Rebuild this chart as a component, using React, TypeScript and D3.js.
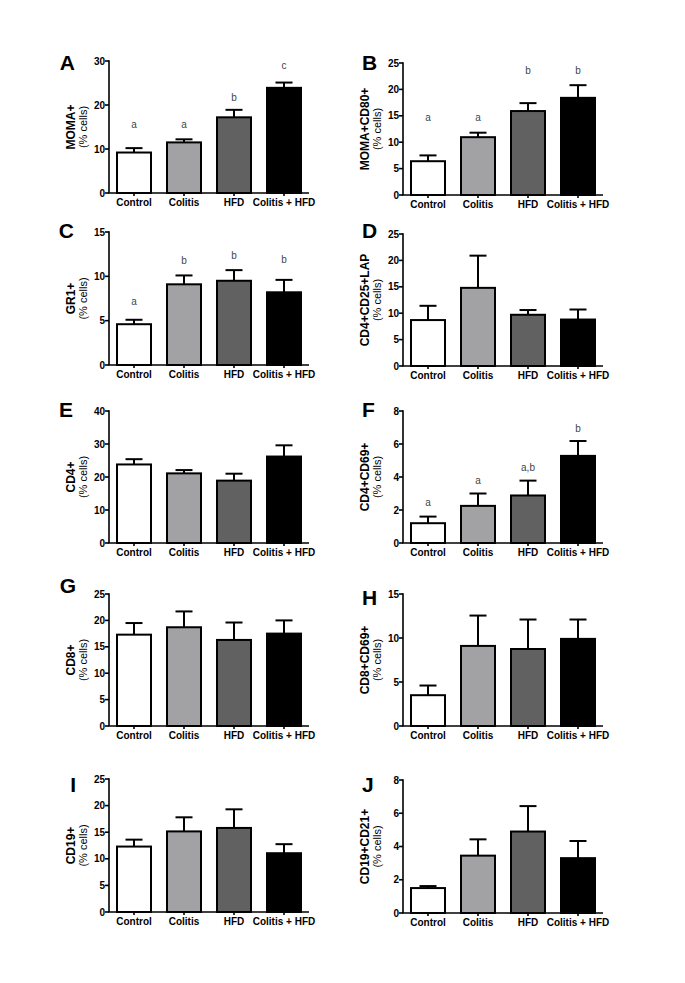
import * as d3 from "d3";

const W = 685;
const H = 983;
const FONT = "'Liberation Sans', Arial, Helvetica, sans-serif";

const GROUPS = ["Control", "Colitis", "HFD", "Colitis + HFD"];
const FILLS = ["#ffffff", "#a2a2a5", "#616161", "#000000"];

// panel ids, in reading order
const PANEL_IDS = ["A", "B", "C", "D", "E", "F", "G", "H", "I", "J"];
const Y_LABELS = [
  "MOMA+",
  "MOMA+CD80+",
  "GR1+",
  "CD4+CD25+LAP",
  "CD4+",
  "CD4+CD69+",
  "CD8+",
  "CD8+CD69+",
  "CD19+",
  "CD19+CD21+",
];
const Y_MAX = [30, 25, 15, 25, 40, 8, 25, 15, 25, 8];
const Y_STEP = [10, 5, 5, 5, 10, 2, 5, 5, 5, 2];

// mean % cells per group
const MEANS = [
  [9.2, 11.5, 17.2, 23.9],
  [6.4, 10.95, 15.9, 18.4],
  [4.6, 9.1, 9.5, 8.2],
  [8.7, 14.8, 9.7, 8.8],
  [23.8, 21.1, 18.9, 26.2],
  [1.2, 2.25, 2.88, 5.28],
  [17.3, 18.7, 16.3, 17.5],
  [3.5, 9.1, 8.75, 9.9],
  [12.3, 15.15, 15.8, 11.05],
  [1.5, 3.45, 4.9, 3.3],
];
// SEM (upper error bar)
const SEMS = [
  [1.0, 0.7, 1.7, 1.2],
  [1.1, 0.85, 1.5, 2.4],
  [0.5, 1.0, 1.2, 1.4],
  [2.7, 6.1, 0.9, 1.9],
  [1.6, 1.0, 2.1, 3.4],
  [0.4, 0.75, 0.9, 0.9],
  [2.2, 3.0, 3.3, 2.5],
  [1.1, 3.45, 3.35, 2.2],
  [1.3, 2.65, 3.5, 1.7],
  [0.12, 0.98, 1.53, 1.03],
];
// significance letters and the value they sit at
const SIG_LETTERS: (string[] | null)[] = [
  ["a", "a", "b", "c"],
  ["a", "a", "b", "b"],
  ["a", "b", "b", "b"],
  null,
  null,
  ["a", "a", "a,b", "b"],
  null,
  null,
  null,
  null,
];
const SIG_AT: (number[] | null)[] = [
  [15.6, 15.6, 21.7, 29.0],
  [14.6, 14.6, 23.6, 23.6],
  [7.2, 11.8, 12.3, 11.9],
  null,
  null,
  [2.44, 3.8, 4.55, 6.93],
  null,
  null,
  null,
  null,
];

// plot frames: axis x, top, bottom; panel letter position
const LAYOUT = [
  { x: 109, top: 61, bottom: 193, lx: 75, ly: 70, anchor: "end" },
  { x: 403, top: 63, bottom: 195, lx: 362, ly: 70, anchor: "start" },
  { x: 109, top: 232, bottom: 365, lx: 74, ly: 238, anchor: "end" },
  { x: 403, top: 234, bottom: 366, lx: 362, ly: 238, anchor: "start" },
  { x: 109, top: 411, bottom: 543, lx: 73, ly: 417, anchor: "end" },
  { x: 403, top: 411, bottom: 543, lx: 362, ly: 417, anchor: "start" },
  { x: 109, top: 594, bottom: 726, lx: 76, ly: 593, anchor: "end" },
  { x: 403, top: 594, bottom: 726, lx: 362, ly: 605, anchor: "start" },
  { x: 109, top: 779, bottom: 912, lx: 76, ly: 792, anchor: "end" },
  { x: 403, top: 780, bottom: 913, lx: 362, ly: 792, anchor: "start" },
];

const PLOT_W = 200;

function Panel({ i }: { i: number }) {
  const L = LAYOUT[i];
  const x = d3
    .scaleBand<string>()
    .domain(GROUPS)
    .range([L.x, L.x + PLOT_W])
    .paddingInner(0.32)
    .paddingOuter(0.16);
  const y = d3.scaleLinear().domain([0, Y_MAX[i]]).range([L.bottom, L.top]);
  const ticks = d3.range(0, Y_MAX[i] + Y_STEP[i] / 2, Y_STEP[i]);
  const bw = x.bandwidth();
  const midY = (L.top + L.bottom) / 2;
  const letters = SIG_LETTERS[i];
  const letterAt = SIG_AT[i];

  return (
    <g>
      <text
        x={L.lx}
        y={L.ly}
        textAnchor={L.anchor}
        fontSize={21}
        fontWeight="bold"
      >
        {PANEL_IDS[i]}
      </text>

      {/* y label, two lines */}
      <text
        transform={`translate(${L.x - 34},${midY}) rotate(-90)`}
        textAnchor="middle"
        fontSize={12}
        fontWeight="bold"
      >
        {Y_LABELS[i]}
      </text>
      <text
        transform={`translate(${L.x - 22},${midY}) rotate(-90)`}
        textAnchor="middle"
        fontSize={11}
      >
        (% cells)
      </text>

      {/* bars */}
      {GROUPS.map((g, j) => (
        <rect
          key={g}
          x={x(g)}
          y={y(MEANS[i][j])}
          width={bw}
          height={L.bottom - y(MEANS[i][j])}
          fill={FILLS[j]}
          stroke="#000"
          strokeWidth={2}
        />
      ))}

      {/* error bars */}
      <g stroke="#000" strokeWidth={2}>
        {GROUPS.map((g, j) => {
          const cx = (x(g) ?? 0) + bw / 2;
          const top = y(MEANS[i][j] + SEMS[i][j]);
          return (
            <g key={g}>
              <line x1={cx} x2={cx} y1={y(MEANS[i][j])} y2={top} />
              <line x1={cx - bw / 4} x2={cx + bw / 4} y1={top} y2={top} />
            </g>
          );
        })}
      </g>

      {letters &&
        letterAt &&
        GROUPS.map((g, j) => (
          <text
            key={g}
            x={(x(g) ?? 0) + bw / 2}
            y={y(letterAt[j])}
            dy="0.35em"
            textAnchor="middle"
            fontSize={10}
            fill="#444"
          >
            {letters[j]}
          </text>
        ))}

      {/* axes */}
      <g stroke="#000" strokeWidth={1.6}>
        <line x1={L.x} x2={L.x} y1={L.top - 0.8} y2={L.bottom} />
        <line x1={L.x - 0.8} x2={L.x + PLOT_W} y1={L.bottom} y2={L.bottom} />
        {ticks.map((t) => (
          <line key={t} x1={L.x - 4} x2={L.x} y1={y(t)} y2={y(t)} />
        ))}
        {GROUPS.map((g) => {
          const cx = (x(g) ?? 0) + bw / 2;
          return (
            <line key={g} x1={cx} x2={cx} y1={L.bottom} y2={L.bottom + 3} />
          );
        })}
      </g>
      {ticks.map((t) => (
        <text
          key={t}
          x={L.x - 4}
          y={y(t)}
          dy="0.35em"
          textAnchor="end"
          fontSize={10}
          fontWeight="bold"
        >
          {t}
        </text>
      ))}
      {GROUPS.map((g) => (
        <text
          key={g}
          x={(x(g) ?? 0) + bw / 2}
          y={L.bottom + 13}
          textAnchor="middle"
          fontSize={10}
          fontWeight="bold"
        >
          {g}
        </text>
      ))}
    </g>
  );
}

export default function App() {
  return (
    <svg
      width={W}
      height={H}
      viewBox={`0 0 ${W} ${H}`}
      style={{
        position: "absolute",
        left: 0,
        top: 0,
        display: "block",
        background: "#fff",
        fontFamily: FONT,
      }}
    >
      <rect width={W} height={H} fill="#fff" />
      {PANEL_IDS.map((id, i) => (
        <Panel key={id} i={i} />
      ))}
    </svg>
  );
}
